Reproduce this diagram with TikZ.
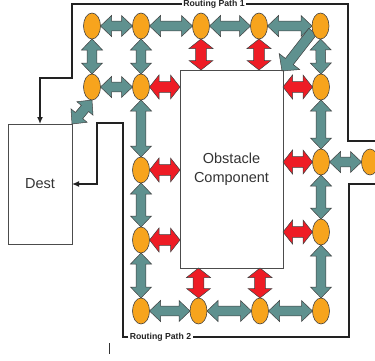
\documentclass[tikz,border=0pt]{standalone}
\usepackage{fontspec}
\setmainfont{Liberation Sans}
\usetikzlibrary{shapes.geometric,calc,arrows.meta}
\definecolor{tealA}{HTML}{5F918F}
\definecolor{redA}{HTML}{EE1C25}
\definecolor{orgA}{HTML}{F7A41D}
\definecolor{lineA}{HTML}{222222}
\definecolor{txtA}{HTML}{333333}
\pgfdeclarelayer{bg}
\pgfsetlayers{bg,main}
\tikzset{
  ell/.style={ellipse, draw=black!75, fill=orgA, line width=0.6pt,
    minimum width=17pt, minimum height=26pt, inner sep=0pt, outer sep=0pt},
  box/.style={draw=black!70, line width=0.8pt, inner sep=0pt, outer sep=0pt,
    text=txtA, align=center, font=\fontsize{14.5}{19}\selectfont},
  route/.style={draw=lineA, line width=1.3pt},
  tip/.style={-{Latex[length=7pt,width=6pt]}},
  rlabel/.style={font=\bfseries\fontsize{8.7}{10}\selectfont, text=lineA,
    inner xsep=1.2pt, inner ysep=0pt},
  dbl/.style n args={3}{to path={
    (\tikztostart)
    -- ($(\tikztostart)!#1!(\tikztotarget)!#2!90:(\tikztotarget)$)
    -- ($(\tikztostart)!#1!(\tikztotarget)!#3!90:(\tikztotarget)$)
    -- ($(\tikztotarget)!#1!(\tikztostart)!#3!-90:(\tikztostart)$)
    -- ($(\tikztotarget)!#1!(\tikztostart)!#2!-90:(\tikztostart)$)
    -- (\tikztotarget)
    -- ($(\tikztotarget)!#1!(\tikztostart)!#2!90:(\tikztostart)$)
    -- ($(\tikztotarget)!#1!(\tikztostart)!#3!90:(\tikztostart)$)
    -- ($(\tikztostart)!#1!(\tikztotarget)!#3!-90:(\tikztotarget)$)
    -- ($(\tikztostart)!#1!(\tikztotarget)!#2!-90:(\tikztotarget)$)
    -- cycle}},
  sgl/.style n args={3}{to path={
    ($(\tikztostart)!#3!90:(\tikztotarget)$)
    -- ($(\tikztotarget)!#1!(\tikztostart)!#3!-90:(\tikztostart)$)
    -- ($(\tikztotarget)!#1!(\tikztostart)!#2!-90:(\tikztostart)$)
    -- (\tikztotarget)
    -- ($(\tikztotarget)!#1!(\tikztostart)!#2!90:(\tikztostart)$)
    -- ($(\tikztotarget)!#1!(\tikztostart)!#3!90:(\tikztostart)$)
    -- ($(\tikztostart)!#3!-90:(\tikztotarget)$)
    -- cycle}},
  tarr/.style={draw=black!75, line width=0.5pt, fill=tealA, dbl={11pt}{10.5pt}{4.8pt}},
  tsgl/.style={draw=black!75, line width=0.5pt, fill=tealA, sgl={12pt}{13pt}{5pt}},
  rarr/.style={draw=black!75, line width=0.5pt, fill=redA, dbl={9.5pt}{12pt}{5.3pt}},
}
\begin{document}
\begin{tikzpicture}[x=1pt,y=-1pt]
\useasboundingbox (0,0) rectangle (375,360);
% boxes
\node[box, minimum width=103pt, minimum height=198pt] (obs) at (231.5,169) {Obstacle\\Component};
\node[box, minimum width=64pt, minimum height=120pt] (dest) at (40,184) {Dest};
% ellipses
\node[ell] (t1) at (92,26) {};
\node[ell] (t2) at (141,26) {};
\node[ell] (t3) at (201,26) {};
\node[ell] (t4) at (259,26) {};
\node[ell] (t5) at (320.5,26) {};
\node[ell] (m1) at (92,87) {};
\node[ell] (m2) at (141,87) {};
\node[ell] (m5) at (321,87) {};
\node[ell] (l3) at (141,170) {};
\node[ell] (l4) at (141,240) {};
\node[ell] (r3) at (321,162) {};
\node[ell] (r4) at (321,232) {};
\node[ell] (fr) at (370,162) {};
\node[ell] (b2) at (141,311) {};
\node[ell] (b3) at (198.5,311) {};
\node[ell] (b4) at (260,311) {};
\node[ell] (b5) at (321,311) {};
% obstacle contact points
\coordinate (ot3) at (t3 |- obs.north);
\coordinate (ot4) at (t4 |- obs.north);
\coordinate (om2) at (obs.west |- m2);
\coordinate (om5) at (obs.east |- m5);
\coordinate (ol3) at (obs.west |- l3);
\coordinate (ol4) at (obs.west |- l4);
\coordinate (or3) at (obs.east |- r3);
\coordinate (or4) at (obs.east |- r4);
\coordinate (ob3) at (b3 |- obs.south);
\coordinate (ob4) at (b4 |- obs.south);
\coordinate (oc) at ($(obs.north east)+(-1,1)$);
\begin{pgfonlayer}{bg}
% teal arrows
\path[tarr] (t1.east) to (t2.west);
\path[tarr] (t2.east) to (t3.west);
\path[tarr] (t3.east) to (t4.west);
\path[tarr] (t4.east) to (t5.west);
\path[tarr] (t1.south) to (m1.north);
\path[tarr] (t2.south) to (m2.north);
\path[tarr] (t5.south) to (m5.north);
\path[tarr] (m1.east) to (m2.west);
\path[tarr] (m2.south) to (l3.north);
\path[tarr] (l3.south) to (l4.north);
\path[tarr] (l4.south) to (b2.north);
\path[tarr] (m5.south) to (r3.north);
\path[tarr] (r3.south) to (r4.north);
\path[tarr] (r4.south) to (b5.north);
\path[tarr] (b2.east) to (b3.west);
\path[tarr] (b3.east) to (b4.west);
\path[tarr] (b4.east) to (b5.west);
\path[tarr] (r3.east) to (fr.west);
\path[tarr] (dest.north east) to (m1.south);
\path[tsgl] (t5.215) to (oc);
% red arrows
\path[rarr] (t3.south) to (ot3);
\path[rarr] (t4.south) to (ot4);
\path[rarr] (m2.east) to (om2);
\path[rarr] (om5) to (m5.west);
\path[rarr] (l3.east) to (ol3);
\path[rarr] (l4.east) to (ol4);
\path[rarr] (or3) to (r3.west);
\path[rarr] (or4) to (r4.west);
\path[rarr] (ob3) to (b3.north);
\path[rarr] (ob4) to (b4.north);
\end{pgfonlayer}
% routing paths
\node[rlabel] (rp1) at (214,4.6) {Routing Path 1};
\node[rlabel] (rp2) at (160.5,337) {Routing Path 2};
\coordinate (p1s) at (375,141);
\coordinate (p1c) at (348,4);
\coordinate (p1d) at (72,4);
\coordinate (p1e) at (72,78);
\draw[route] (p1s) -| (p1c) -- (rp1.east |- p1c);
\draw[route,tip] (rp1.west |- p1d) -- (p1d) -- (p1e) -| (dest.north);
\coordinate (p2s) at (375,184);
\coordinate (p2c) at (349,337);
\coordinate (p2d) at (123,337);
\coordinate (p2e) at (123,123);
\coordinate (p2f) at (97,123);
\draw[route] (p2s) -| (p2c) -- (rp2.east);
\draw[route,tip] (rp2.west) -- (p2d) -- (p2e) -- (p2f) |- (dest.east);
% stray mark
\draw[black!80, line width=0.8pt] (109,343) -- (109,354);
\end{tikzpicture}
\end{document}
